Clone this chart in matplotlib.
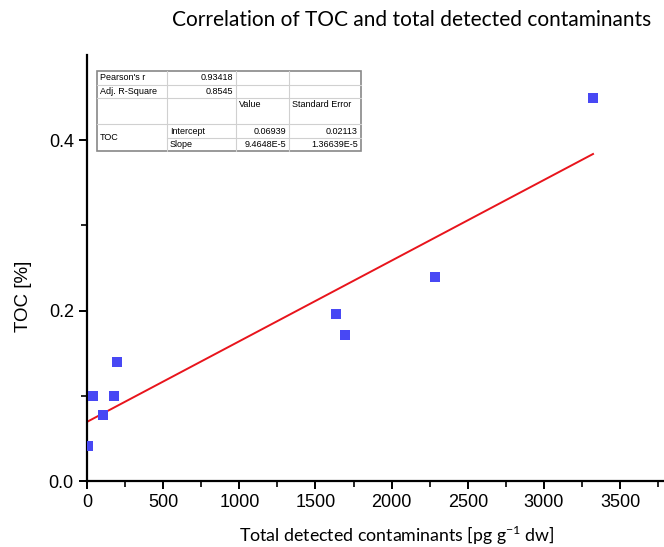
import matplotlib.pyplot as plt
import numpy as np

# data
contaminants = [5, 39, 105, 177, 197, 1635, 1694, 2285, 3322]
toc = [0.041, 0.100, 0.078, 0.100, 0.140, 0.196, 0.171, 0.240, 0.450]
intercept = 0.06939
slope = 9.4648e-5
x_ticks = [0, 500, 1000, 1500, 2000, 2500, 3000, 3500]
y_ticks = [0.0, 0.2, 0.4]

table_rows = [
    ["Pearson's r", "0.93418", "", ""],
    ["Adj. R-Square", "0.8545", "", ""],
    ["", "", "Value", "Standard Error"],
    ["TOC", "Intercept", "0.06939", "0.02113"],
    ["", "Slope", "9.4648E-5", "1.36639E-5"],
]

plt.rcParams['mathtext.fontset'] = 'custom'
plt.rcParams['mathtext.rm'] = 'Lato'

W, H = 664, 547
fig = plt.figure(figsize=(W / 100, H / 100), dpi=100)
ax = fig.add_axes([87 / W, 66 / H, (W - 87) / W, 426 / H])

ax.scatter(contaminants, toc, marker='s', s=62, color='#4848f4', zorder=3, linewidths=0)
xfit = np.array([0, max(contaminants)])
ax.plot(xfit, intercept + slope * xfit, color='#e8141c', lw=1.4, zorder=2)

ax.set_xlim(0, 3788)
ax.set_ylim(0, 0.5)
ax.set_xticks(x_ticks)
ax.set_yticks(y_ticks)
ax.set_xticks(np.arange(250, 3788, 500), minor=True)
ax.set_yticks([0.1, 0.3], minor=True)
ax.set_yticklabels([f"{v:.1f}" for v in y_ticks])
for side in ['top', 'right']:
    ax.spines[side].set_visible(False)
for side in ['left', 'bottom']:
    ax.spines[side].set_linewidth(1.6)
ax.tick_params(which='major', direction='out', length=6, width=1.4,
               labelsize=13, colors='black')
ax.tick_params(which='minor', direction='out', length=4, width=1.2)
for lab in ax.get_xticklabels() + ax.get_yticklabels():
    lab.set_family('Liberation Sans')

fig.text(24 / W, 1 - 296 / H, "TOC [%]", rotation=90, ha='center', va='center',
         fontsize=13.5, family='Liberation Sans')
fig.text(397 / W, 1 - 535 / H, r"Total detected contaminants [pg g$^{\mathregular{-1}}$ dw]",
         ha='center', va='center', fontsize=12.8, family='Lato')
fig.text(412 / W, 1 - 20 / H, "Correlation of TOC and total detected contaminants",
         ha='center', va='center', fontsize=15, family='Lato')

# fit summary table, drawn in pixel space
tab = fig.add_axes([0, 0, 1, 1], facecolor='none')
tab.set_xlim(0, W)
tab.set_ylim(H, 0)
tab.axis('off')
cols = [97, 167, 236, 289, 361]
rows = [71, 85, 98, 111, 124, 138, 151]
tab.add_patch(plt.Rectangle((cols[0], rows[0]), cols[-1] - cols[0], rows[-1] - rows[0],
                            facecolor='white', edgecolor='#888888', lw=1.2, zorder=4))
for c in cols[1:-1]:
    tab.plot([c, c], [rows[0], rows[-1]], color='#d0d0d0', lw=0.8, zorder=5)
for r in [85, 98, 124, 138]:
    x0 = cols[1] if r == 138 else cols[0]
    tab.plot([x0, cols[-1]], [r, r], color='#d0d0d0', lw=0.8, zorder=5)
fs = 6.5
row_y = [78, 91.5, 104.5, 131, 144.5]
for i, row in enumerate(table_rows):
    for j, txt in enumerate(row):
        if not txt:
            continue
        y = row_y[i]
        if i == 3 and j == 0:
            y = 137.5  # merged cell
        if j == 0 or (j == 1 and i >= 3) or i == 2:
            tab.text(cols[j] + 3, y, txt, ha='left', va='center',
                     fontsize=fs, family='Liberation Sans', zorder=6)
        else:
            tab.text(cols[j + 1] - 3, y, txt, ha='right', va='center',
                     fontsize=fs, family='Liberation Sans', zorder=6)

fig.savefig("out.png", dpi=100)
